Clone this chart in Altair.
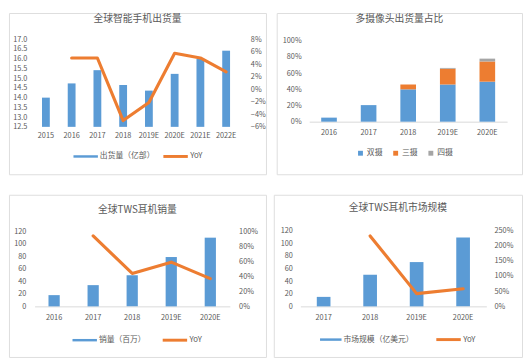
import altair as alt
import pandas as pd

FONT = "Noto Sans CJK SC"
TXT = "#595959"
BLUE = "#5B9BD5"
ORANGE = "#ED7D31"
GRAY = "#A5A5A5"
EDGE = "#D9D9D9"

# ---------------- data ----------------
phone_years = ["2015", "2016", "2017", "2018", "2019E", "2020E", "2021E", "2022E"]
phone_ship = [14.0, 14.73, 15.41, 14.65, 14.36, 15.22, 16.0, 16.41]
phone_yoy_years = ["2016", "2017", "2018", "2019E", "2020E", "2021E", "2022E"]
phone_yoy = [0.05, 0.05, -0.05, -0.021, 0.0575, 0.05, 0.028]

cam_years = ["2016", "2017", "2018", "2019E", "2020E"]
cam_names = ["双摄", "三摄", "四摄"]
cam_dual = [0.05, 0.205, 0.40, 0.46, 0.495]
cam_triple = [0.0, 0.0, 0.06, 0.195, 0.25]
cam_quad = [0.0, 0.0, 0.0, 0.01, 0.035]

tws_years = ["2016", "2017", "2018", "2019E", "2020E"]
tws_sales = [18, 34, 50, 79, 110]
tws_yoy_years = ["2017", "2018", "2019E", "2020E"]
tws_yoy = [0.94, 0.44, 0.59, 0.37]

mkt_years = ["2017", "2018", "2019E", "2020E"]
mkt_size = [15, 50, 70, 109]
mkt_yoy_years = ["2018", "2019E", "2020E"]
mkt_yoy = [2.32, 0.42, 0.58]


def title_p(text, center_y):
    return alt.TitleParams(text=text, fontSize=10, font=FONT, color=TXT,
                           fontWeight="normal", anchor="middle",
                           offset=-(center_y + 5))


def x_axis(h, axis_y, pad, domain):
    return alt.Axis(orient="bottom", offset=axis_y - h, labelPadding=pad,
                    ticks=False, tickSize=0, domain=domain, domainColor=EDGE,
                    labelAngle=0, title=None, labelFontSize=7.5, labelColor=TXT,
                    labelFont=FONT, grid=False, minExtent=0, maxExtent=40)


def y_axis(orient, offset, values, fmt, align):
    return alt.Axis(orient=orient, offset=offset, labelPadding=0, ticks=False,
                    tickSize=0, domain=False, grid=False, values=values,
                    format=fmt, labelAlign=align, labelFontSize=7.5,
                    labelColor=TXT, labelFont=FONT, title=None, minExtent=0,
                    maxExtent=40)


def dual_panel(c):
    d = c["dy"]
    yr = [c["yrange"][0] - d, c["yrange"][1] - d]
    xs = alt.Scale(type="band", domain=c["years"], range=c["band"],
                   paddingInner=0, paddingOuter=0)
    ys = alt.Scale(domain=c["ydomain"], range=yr, nice=False, zero=False)
    rs = alt.Scale(domain=c["rdomain"], range=yr, nice=False, zero=False)
    xa = x_axis(c["h"], yr[0], c["xpad"], c["xdomain"])
    bar_df = pd.DataFrame({"year": c["years"], "v": c["bars"], "s": c["bar_name"]})
    line_df = pd.DataFrame({"year": c["yoy_years"], "v": c["yoy"], "s": "YoY"})
    rw = c["rect_w"]
    hh = 2.5 / rw
    ly = c["leg_y"] - d
    bars = alt.Chart(bar_df).mark_bar(size=c["bar_size"]).encode(
        x=alt.X("year:N", scale=xs, axis=xa),
        y=alt.Y("v:Q", scale=ys,
                axis=y_axis("left", -c["loff"], c["yvalues"], c["yfmt"], "right")),
        y2=alt.datum(c["ydomain"][0]),
        fill=alt.Fill("s:N", scale=alt.Scale(domain=[c["bar_name"]], range=[BLUE]),
                      legend=alt.Legend(orient="none", legendX=c["rect_x"],
                                        legendY=ly - rw / 2, title=None,
                                        symbolType=f"M-1,-{hh:.3f}H1V{hh:.3f}H-1Z",
                                        symbolSize=rw * rw, symbolStrokeWidth=0,
                                        labelFontSize=8, labelColor=TXT,
                                        labelFont=FONT, labelOffset=2, padding=0)),
    )
    line = alt.Chart(line_df).mark_line(strokeWidth=3.2, strokeJoin="round",
                                        strokeCap="round").encode(
        x=alt.X("year:N", scale=xs, axis=xa),
        y=alt.Y("v:Q", scale=rs,
                axis=y_axis("right", c["roff"] - c["w"], c["rvalues"], c["rfmt"], "left")),
        stroke=alt.Stroke("s:N", scale=alt.Scale(domain=["YoY"], range=[ORANGE]),
                          legend=alt.Legend(orient="none", legendX=c["line_x"] - 1.5,
                                            legendY=ly - 14, title=None,
                                            symbolType="stroke", symbolSize=625,
                                            symbolStrokeWidth=3, labelFontSize=8,
                                            labelColor=TXT, labelFont=FONT,
                                            labelOffset=1, padding=0)),
    )
    return alt.layer(bars, line).resolve_scale(y="independent").properties(
        width=c["w"], height=c["h"], title=title_p(c["title"], c["title_y"] - d))


p1 = dual_panel(dict(
    title="全球智能手机出货量", title_y=9, w=263, h=165, dy=2.5,
    years=phone_years, bars=phone_ship, bar_name="出货量（亿部）",
    yoy_years=phone_yoy_years, yoy=phone_yoy,
    band=[24.6, 235.4], bar_size=8,
    ydomain=[12.5, 17.0], yrange=[119.0, 29.3],
    yvalues=[12.5, 13.0, 13.5, 14.0, 14.5, 15.0, 15.5, 16.0, 16.5, 17.0], yfmt=".1f",
    rdomain=[-0.06, 0.08],
    rvalues=[-0.06, -0.04, -0.02, 0.0, 0.02, 0.04, 0.06, 0.08], rfmt=".0%",
    loff=18.3, roff=247.0, xpad=4.5, xdomain=False,
    leg_y=149.3, rect_x=66, rect_w=25, line_x=158,
))

# ---- panel 2: stacked ----
D2 = 2.5
cam_df = pd.DataFrame({
    "year": cam_years * 3,
    "type": [cam_names[0]] * 5 + [cam_names[1]] * 5 + [cam_names[2]] * 5,
    "v": cam_dual + cam_triple + cam_quad,
    "o": [0] * 5 + [1] * 5 + [2] * 5,
})
p2 = alt.Chart(cam_df).mark_bar(size=16).encode(
    x=alt.X("year:N", scale=alt.Scale(type="band", domain=cam_years, range=[33.25, 235.75],
                                      paddingInner=0, paddingOuter=0),
            axis=x_axis(165, 113.7 - D2, 7.0, True)),
    y=alt.Y("v:Q", stack="zero",
            scale=alt.Scale(domain=[0, 1], range=[113.7 - D2, 31.0 - D2], nice=False),
            axis=y_axis("left", -25.0, [0, 0.2, 0.4, 0.6, 0.8, 1.0], ".0%", "right")),
    fill=alt.Fill("type:N", scale=alt.Scale(domain=cam_names, range=[BLUE, ORANGE, GRAY]),
                  legend=alt.Legend(orient="none", direction="horizontal",
                                    legendX=81.7, legendY=147 - 5 - D2, title=None,
                                    symbolType="square", symbolSize=25,
                                    symbolStrokeWidth=0, labelFontSize=8,
                                    labelColor=TXT, labelFont=FONT, labelOffset=2.5,
                                    columnPadding=9, padding=0)),
    order=alt.Order("o:Q", sort="ascending"),
).properties(width=251, height=165, title=title_p("多摄像头出货量占比", 9 - D2))

p3 = dual_panel(dict(
    title="全球TWS耳机销量", title_y=17, w=263, h=166, dy=1.5,
    years=tws_years, bars=tws_sales, bar_name="销量（百万）",
    yoy_years=tws_yoy_years, yoy=tws_yoy,
    band=[26.2, 226.0], bar_size=11.5,
    ydomain=[0, 120], yrange=[115.7, 39.0],
    yvalues=[0, 20, 40, 60, 80, 100, 120], yfmt="d",
    rdomain=[0, 1.0],
    rvalues=[0, 0.2, 0.4, 0.6, 0.8, 1.0], rfmt=".0%",
    loff=17.3, roff=235.0, xpad=7.8, xdomain=True,
    leg_y=150.3, rect_x=65, rect_w=25, line_x=157.3,
))

p4 = dual_panel(dict(
    title="全球TWS耳机市场规模", title_y=14.7, w=254, h=166, dy=1.5,
    years=mkt_years, bars=mkt_size, bar_name="市场规模（亿美元）",
    yoy_years=mkt_yoy_years, yoy=mkt_yoy,
    band=[27.2, 217.5], bar_size=14,
    ydomain=[0, 120], yrange=[115.7, 38.0],
    yvalues=[0, 20, 40, 60, 80, 100, 120], yfmt="d",
    rdomain=[0, 2.5],
    rvalues=[0, 0.5, 1.0, 1.5, 2.0, 2.5], rfmt=".0%",
    loff=19.0, roff=225.3, xpad=7.1, xdomain=True,
    leg_y=149.7, rect_x=47.3, rect_w=22, line_x=166.3,
))

IND = dict(fill="independent", stroke="independent", x="independent", y="independent")
row1 = alt.hconcat(p1, p2, spacing=9).resolve_scale(**IND).resolve_legend(
    fill="independent", stroke="independent")
row2 = alt.hconcat(p3, p4, spacing=6).resolve_scale(**IND).resolve_legend(
    fill="independent", stroke="independent")
chart = alt.vconcat(row1, row2, spacing=19).resolve_scale(**IND).resolve_legend(
    fill="independent", stroke="independent").properties(padding=0).configure_view(
    stroke=EDGE, strokeWidth=1
).configure(font=FONT, background="white")

chart.save("out.html", embed_options={"renderer": "svg", "actions": False})
